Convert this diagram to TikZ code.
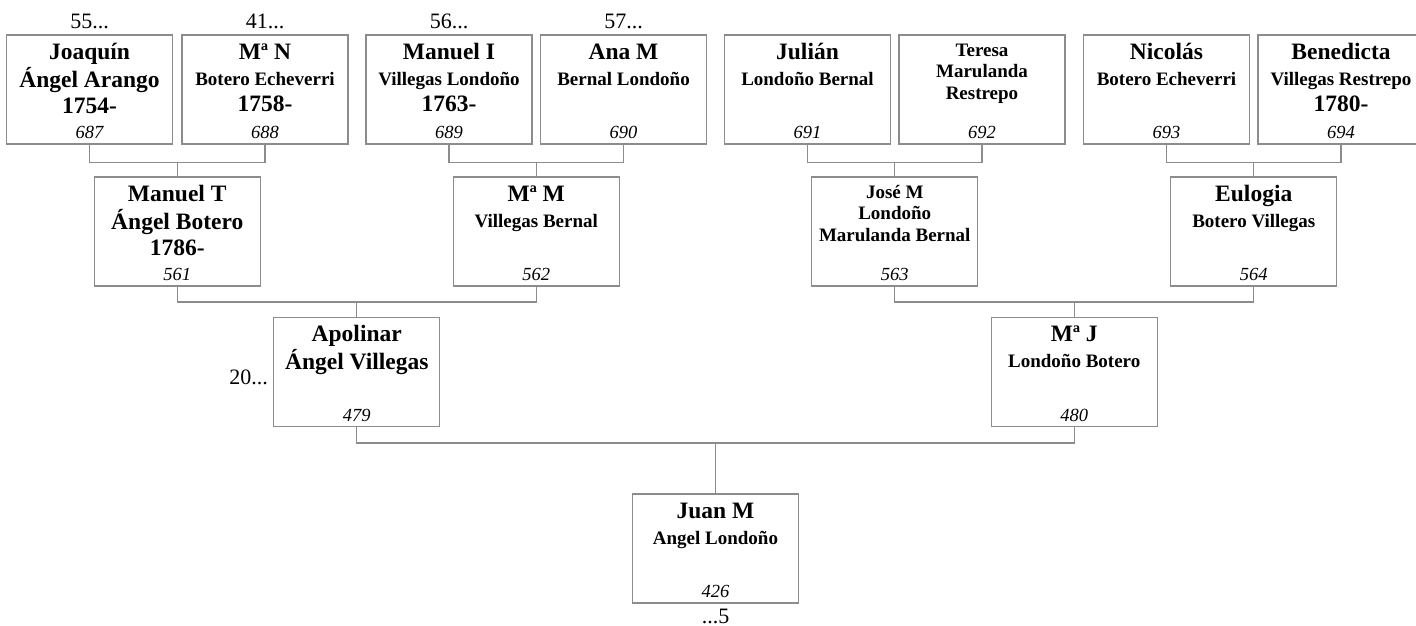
\documentclass[tikz,border=0pt]{standalone}
\usepackage{fontspec}
\setmainfont{Liberation Serif}
\usepackage{xcolor}
\definecolor{LineaGris}{HTML}{8C8C8C}
\usetikzlibrary{positioning}
\newcommand{\chica}{\fontsize{19}{26}\selectfont}
% one person: box, name lines, number
\newcommand{\persona}[4][nombre]{%
  \node[caja] (p#3) at (#2) {};
  \node[#1] (t#3) at (p#3.north) {\begin{tabular}[t]{@{}c@{}}#4\end{tabular}};
  \node[numero] (n#3) at (p#3.south) {#3};}

\begin{document}
\begin{tikzpicture}[
    x=1pt, y=-1pt,
    caja/.style={draw=LineaGris, line width=1.2pt, minimum width=166pt, minimum height=109pt, inner sep=0pt},
    nombre/.style={anchor=base, inner sep=0pt, font=\bfseries\fontsize{23.5}{26}\selectfont, yshift=-25pt},
    nombrechico/.style={anchor=base, inner sep=0pt, font=\bfseries\fontsize{19}{21.5}\selectfont, yshift=-22pt},
    numero/.style={anchor=base, inner sep=0pt, font=\itshape\fontsize{18.5}{20}\selectfont, yshift=6pt},
    etiqueta/.style={inner sep=0pt, font=\fontsize{22}{24}\selectfont},
    linea/.style={draw=LineaGris, line width=1.2pt}
  ]
  \useasboundingbox (0,0) rectangle (1416,626);

  % great-grandparents
  \persona{89.5,89.5}{687}{Joaquín\\Ángel Arango\\1754-}
  \persona{265,89.5}{688}{Mª N\\{\chica Botero Echeverri}\\1758-}
  \persona{449,89.5}{689}{Manuel I\\{\chica Villegas Londoño}\\1763-}
  \persona{623.5,89.5}{690}{Ana M\\{\chica Bernal Londoño}}
  \persona{807.5,89.5}{691}{Julián\\{\chica Londoño Bernal}}
  \persona[nombrechico]{982,89.5}{692}{Teresa\\Marulanda\\Restrepo}
  \persona{1166.5,89.5}{693}{Nicolás\\{\chica Botero Echeverri}}
  \persona{1341,89.5}{694}{Benedicta\\{\chica Villegas Restrepo}\\1780-}

  % grandparents
  \persona{177.25,231.5}{561}{Manuel T\\Ángel Botero\\1786-}
  \persona{536.25,231.5}{562}{Mª M\\{\chica Villegas Bernal}}
  \persona[nombrechico]{894.75,231.5}{563}{José M\\Londoño\\Marulanda Bernal}
  \persona{1253.75,231.5}{564}{Eulogia\\{\chica Botero Villegas}}

  % parents
  \persona{356.75,372}{479}{Apolinar\\Ángel Villegas}
  \persona{1074.25,372}{480}{Mª J\\{\chica Londoño Botero}}

  % child
  \persona{715.5,548.5}{426}{Juan M\\{\chica Angel Londoño}}

  \node[etiqueta, above=5pt of p687] (a687) {55...};
  \node[etiqueta, above=5pt of p688] (a688) {41...};
  \node[etiqueta, above=5pt of p689] (a689) {56...};
  \node[etiqueta, above=5pt of p690] (a690) {57...};
  \node[etiqueta, left=5pt of p479, yshift=-5pt] (a479) {20...};
  \node[etiqueta, below=5pt of p426] (a426) {...5};

  \coordinate (u561) at (177.25,162.5);
  \coordinate (u562) at (536.25,162.5);
  \coordinate (u563) at (894.75,162.5);
  \coordinate (u564) at (1253.75,162.5);
  \coordinate (u479) at (356.75,302);
  \coordinate (u480) at (1074.25,302);
  \coordinate (u426) at (715.5,443);

  \foreach \a/\b/\c in {687/688/561, 689/690/562, 691/692/563, 693/694/564,
                        561/562/479, 563/564/480, 479/480/426}{
    \draw[linea] (p\a) |- (u\c) -| (p\b);
    \draw[linea] (u\c) -- (p\c);
  }
\end{tikzpicture}
\end{document}
